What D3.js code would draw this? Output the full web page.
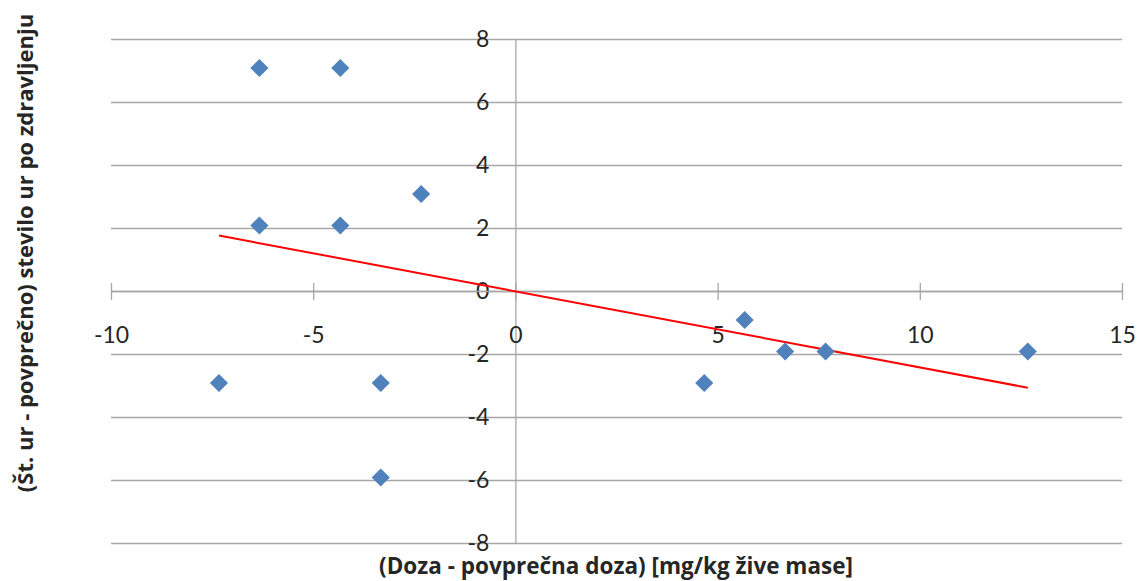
<!DOCTYPE html>
<html>
<head>
<meta charset="utf-8">
<script src="https://cdn.jsdelivr.net/npm/d3@7"></script>
<style>
  body { margin: 0; background: #fff; }
  .chart text { font-family: Lato, "Open Sans", sans-serif; fill: #262626; }
  .chart text.title { font-family: "Open Sans", Lato, sans-serif; font-weight: bold; }
</style>
</head>
<body>
<div id="chart"></div>
<script>
        //data
        var doseDiff = [-6.33, -4.33, -6.33, -4.33, -2.33, -7.33, -3.33, -3.33, 4.67, 5.67, 6.67, 7.67, 12.67];
        var hoursDiff = [7.08, 7.08, 2.08, 2.08, 3.08, -2.92, -2.92, -5.92, -2.92, -0.92, -1.92, -1.92, -1.92];
        var trendX = [-7.33, 12.67];
        var trendY = [1.76, -3.07];
        var xTicks = [-10, -5, 0, 5, 10, 15];
        var yTicks = [-8, -6, -4, -2, 0, 2, 4, 6, 8];
        var xTitle = "(Doza - povprečna doza) [mg/kg žive mase]";
        var yTitle = "(Št. ur - povprečno) stevilo ur po zdravljenju";

        //set the dimensions and margins of the graph
        var margin = {top: 39, right: 16, bottom: 38, left: 111},
            width = 1138 - margin.left - margin.right,
            height = 581 - margin.top - margin.bottom;

        var x = d3.scaleLinear().domain([-10, 15]).range([0, width]);
        var y = d3.scaleLinear().domain([-8, 8]).range([height, 0]);

        //plain hyphen for negative numbers, like the original
        var fmt = function (d) { return String(d); };

        var svg = d3.select("#chart").append("svg")
            .attr("width", width + margin.left + margin.right)
            .attr("height", height + margin.top + margin.bottom)
            .attr("class", "chart")
            .append("g")
            .attr("transform", "translate(" + margin.left + "," + margin.top + ")");

        //horizontal gridlines
        var grid = svg.append("g")
            .call(d3.axisLeft(y).tickValues(yTicks).tickSize(-width).tickFormat(""));
        grid.select(".domain").remove();
        grid.selectAll("line").attr("stroke", "#a6a6a6").attr("stroke-width", 1.3);

        //vertical axis through x = 0
        var yAxis = svg.append("g")
            .attr("transform", "translate(" + x(0) + ",0)")
            .call(d3.axisLeft(y).tickValues(yTicks).tickFormat(fmt).tickSize(0).tickPadding(26));
        yAxis.select(".domain").attr("stroke", "#a6a6a6").attr("stroke-width", 1.3);
        yAxis.selectAll("text").style("font-size", "23px");

        //horizontal axis through y = 0
        var xAxis = svg.append("g")
            .attr("transform", "translate(0," + y(0) + ")")
            .call(d3.axisBottom(x).tickValues(xTicks).tickFormat(fmt).tickSizeOuter(0));
        xAxis.select(".domain").attr("stroke", "#a6a6a6").attr("stroke-width", 1.3);
        xAxis.selectAll("line")
            .attr("y1", -8).attr("y2", 9)
            .attr("stroke", "#a6a6a6").attr("stroke-width", 1.3);
        xAxis.selectAll("text")
            .attr("y", 44).attr("dy", "0.35em")
            .style("font-size", "23px");

        //trend line
        svg.append("line")
            .attr("x1", x(trendX[0])).attr("y1", y(trendY[0]))
            .attr("x2", x(trendX[1])).attr("y2", y(trendY[1]))
            .attr("stroke", "#ff0000")
            .attr("stroke-width", 2);

        //points
        svg.selectAll("path.pt")
            .data(doseDiff)
            .enter()
            .append("path")
            .attr("class", "pt")
            .attr("d", d3.symbol(d3.symbolSquare, 165))
            .attr("transform", function (d, i) {
                return "translate(" + x(d) + "," + y(hoursDiff[i]) + ") rotate(45)";
            })
            .attr("fill", "#4f81bd");

        //axis titles
        svg.append("text")
            .attr("class", "title")
            .attr("x", 616 - margin.left)
            .attr("y", 574 - margin.top)
            .attr("text-anchor", "middle")
            .style("font-size", "22.5px")
            .text(xTitle);

        svg.append("text")
            .attr("class", "title")
            .attr("transform", "translate(" + (33 - margin.left) + "," + (253 - margin.top) + ") rotate(-90)")
            .attr("text-anchor", "middle")
            .style("font-size", "22px")
            .text(yTitle);
</script>
</body>
</html>
